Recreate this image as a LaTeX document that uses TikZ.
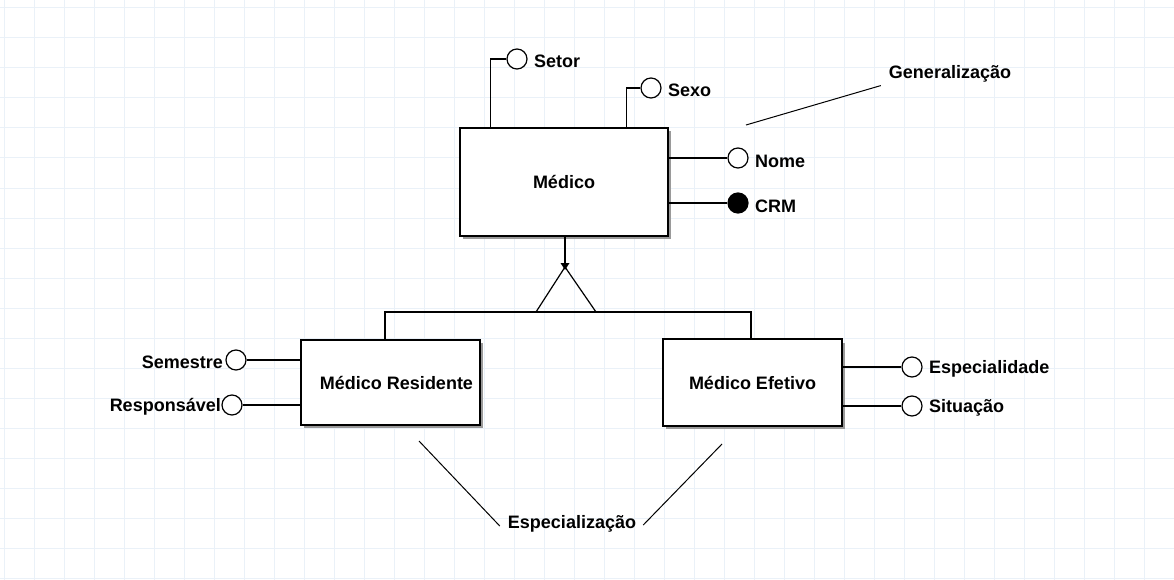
\documentclass[tikz,border=0pt]{standalone}
\usepackage{fontspec}
\setmainfont{Liberation Sans}
\usetikzlibrary{arrows.meta,calc}
\definecolor{gridc}{HTML}{EAF1F8}
\definecolor{shad}{HTML}{9A9A9A}
\begin{document}
\begin{tikzpicture}[x=1pt,y=-1pt,
  lbl/.style={font=\fontsize{18}{20}\selectfont\bfseries, inner sep=2pt},
  entity/.style={draw, line width=1.3pt, fill=white, font=\fontsize{18}{20}\selectfont\bfseries, inner sep=0pt},
  attr/.style={circle, draw, line width=1.2pt, fill=white, minimum size=20pt, inner sep=0pt},
  keyattr/.style={attr, fill=black},
  conn/.style={line width=1.2pt},
  shadowbox/.style={fill=shad, draw=none}]
\useasboundingbox (0,0) rectangle (1174,580);
\fill[white] (0,0) rectangle (1174,580);
\foreach \x in {4,34,...,1174} \draw[gridc, line width=1pt] (\x,0) -- (\x,580);
\foreach \y in {8,38,...,580} \draw[gridc, line width=1pt] (0,\y) -- (1174,\y);

% shadows
\fill[shad] (463,131) rectangle (671,239);
\fill[shad] (304,343) rectangle (483,428);
\fill[shad] (666,343) rectangle (845,429);

% entities
\node[entity, minimum width=208pt, minimum height=108pt] (medico) at (564,182) {Médico};
\node[entity, minimum width=179pt, minimum height=85pt] (res) at (390.5,382.5) {\hspace*{12pt}Médico Residente};
\node[entity, minimum width=179pt, minimum height=87pt] (eft) at (752.5,382.5) {Médico Efetivo};

% attributes of Médico
\node[attr] (setorc) at (517,59) {};
\node[lbl, anchor=west] (setor) at (532,61) {Setor};
\node[attr] (sexoc) at (651,88) {};
\node[lbl, anchor=west] (sexo) at (666,90) {Sexo};
\node[attr] (nomec) at (738,158) {};
\node[lbl, anchor=west] (nome) at (753,161) {Nome};
\node[keyattr] (crmc) at (738,203) {};
\node[lbl, anchor=west] (crm) at (753,206) {CRM};

\draw[conn] (setorc.west) -| ([xshift=31pt]medico.north west);
\draw[conn] (sexoc.west) -| ([xshift=167pt]medico.north west);
\draw[conn] (nomec.west) -- (nomec.west -| medico.east);
\draw[conn] (crmc.west) -- (crmc.west -| medico.east);

% generalization triangle
\coordinate (apex) at (565,267);
\coordinate (bl) at (536,312);
\coordinate (br) at (596,312);
\draw[conn, line join=miter] (apex) -- (bl) -- (br) -- cycle;
\draw[conn] (medico.south -| apex) -- (apex);
\fill ([yshift=-3pt]apex) -- ([xshift=-4.5pt,yshift=4pt]apex) -- ([xshift=4.5pt,yshift=4pt]apex) -- cycle;
\draw[conn] ([xshift=-5.5pt]res.north) -- ([xshift=-5.5pt]res.north |- bl) -- ([xshift=-1.5pt]eft.north |- bl) -- ([xshift=-1.5pt]eft.north);

% attributes of Médico Residente
\node[attr] (semc) at (236,360) {};
\node[lbl, anchor=east] (sem) at (225,362) {Semestre};
\node[attr] (respc) at (232,405) {};
\node[lbl, anchor=east] (resp) at (223,407) {Responsável};
\draw[conn] (semc.east) -- (semc.east -| res.west);
\draw[conn] (respc.east) -- (respc.east -| res.west);

% attributes of Médico Efetivo
\node[attr] (espc) at (912,367) {};
\node[lbl, anchor=west] (esp) at (927,369) {Especialidade};
\node[attr] (sitc) at (912,406) {};
\node[lbl, anchor=west] (sit) at (927,408) {Situação};
\draw[conn] (espc.west) -- (espc.west -| eft.east);
\draw[conn] (sitc.west) -- (sitc.west -| eft.east);

% notes
\node[lbl] (gen) at (950,74) {Generalização};
\coordinate (g1) at (746,125);
\draw[conn, line width=1pt] (g1) -- ([xshift=-6pt,yshift=-1pt]gen.south west);

\node[lbl] (spec) at (572,524) {Especialização};
\coordinate (s1) at (419,441);
\coordinate (s2) at (722,444);
\draw[conn, line width=1pt] (s1) -- ([xshift=-6pt,yshift=-2pt]spec.west);
\draw[conn, line width=1pt] (s2) -- ([xshift=5pt,yshift=-1pt]spec.east);
\end{tikzpicture}
\end{document}
